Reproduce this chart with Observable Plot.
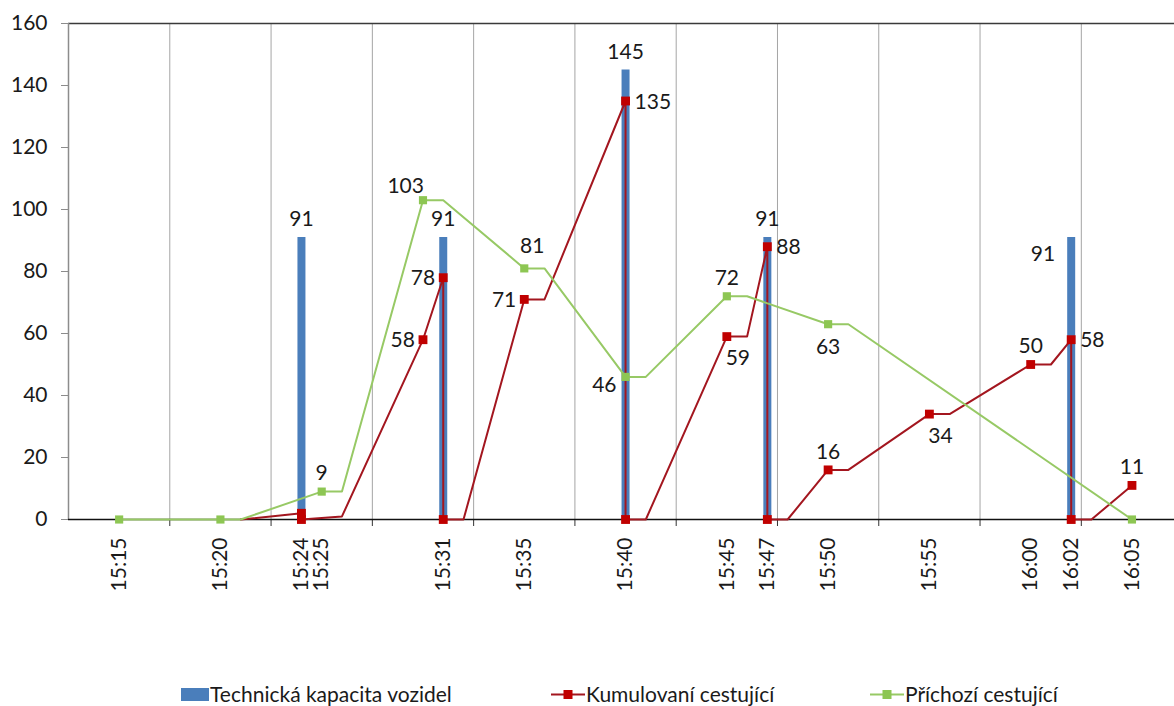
<!DOCTYPE html>
<html>
<head>
<meta charset="utf-8">
<script src="https://cdn.jsdelivr.net/npm/d3@7"></script>
<script src="https://cdn.jsdelivr.net/npm/@observablehq/plot@0.6"></script>
<style>
  html, body { margin: 0; padding: 0; background: #fff; }
  body { width: 1174px; height: 706px; position: relative; overflow: hidden; font-family: Lato, "Open Sans", sans-serif; }
  #chart svg text { font-variant-numeric: tabular-nums; }
  #legend { position: absolute; top: 681px; left: 0; width: 1174px; height: 24px; font-size: 21px; color: #1a1a1a; }
  #legend .item { position: absolute; top: 0; display: flex; align-items: center; white-space: nowrap; }
  #legend svg { display: block; }
</style>
</head>
<body>
<div id="chart"></div>
<div id="legend"></div>
<script>
// ---- data ----
const seriesNames = ["Technická kapacita vozidel", "Kumulovaní cestující", "Příchozí cestující"];

const tickLabels = ["15:15","15:20","15:24","15:25","15:31","15:35","15:40","15:45","15:47","15:50","15:55","16:00","16:02","16:05"];

const capacityTimes  = ["15:24","15:31","15:40","15:47","16:02"];
const capacityValues = [91, 91, 145, 91, 91];

const kumulTimes  = ["15:21","15:24","15:24","15:26","15:30","15:31","15:31","15:32","15:35","15:36","15:40","15:40","15:41","15:45","15:46","15:47","15:47","15:48","15:50","15:51","15:55","15:56","16:00","16:01","16:02","16:02","16:03","16:05"];
const kumulValues = [0, 2, 0, 1, 58, 78, 0, 0, 71, 71, 135, 0, 0, 59, 59, 88, 0, 0, 16, 16, 34, 34, 50, 50, 58, 0, 0, 11];
const kumulMarked = [0, 1, 1, 0, 1, 1, 1, 0, 1, 0, 1, 1, 0, 1, 0, 1, 1, 0, 1, 0, 1, 0, 1, 0, 1, 1, 0, 1];
const kumulLabelTimes  = ["15:30","15:31","15:35","15:40","15:45","15:47","15:50","15:55","16:00","16:02","16:05"];
const kumulLabelValues = [58, 78, 71, 135, 59, 88, 16, 34, 50, 58, 11];

const prichTimes  = ["15:15","15:20","15:21","15:25","15:26","15:30","15:31","15:35","15:36","15:40","15:41","15:45","15:46","15:50","15:51","16:05"];
const prichValues = [0, 0, 0, 9, 9, 103, 103, 81, 81, 46, 46, 72, 72, 63, 63, 0];
const prichMarked = [1, 1, 0, 1, 0, 1, 0, 1, 0, 1, 0, 1, 0, 1, 0, 1];
const prichLabelTimes  = ["15:25","15:30","15:35","15:40","15:45","15:50"];
const prichLabelValues = [9, 103, 81, 46, 72, 63];

// label placement (style, not data)
const place = {
  N:  {dx: 0,   dy: -18, anchor: "middle"},
  S:  {dx: 0,   dy: 23,  anchor: "middle"},
  W:  {dx: -8,  dy: 1,   anchor: "end"},
  E:  {dx: 9,   dy: 1,   anchor: "start"},
  SE: {dx: 11,  dy: 22,  anchor: "middle"},
  NE: {dx: 8,   dy: -22, anchor: "middle"},
  NW: {dx: 1,   dy: -14, anchor: "end"},
  WS: {dx: -9,  dy: 8,   anchor: "end"},
  BW: {dx: -16, dy: 17,  anchor: "end"}
};
const capacityPlace = ["N","N","N","N","BW"];
const kumulPlace = ["W","W","W","E","SE","E","N","SE","N","E","N"];
const prichPlace = ["N","NW","NE","WS","N","S"];

// ---- helpers ----
const toMin = s => { const [h, m] = s.split(":").map(Number); return h * 60 + m - 900; };
const fromMin = v => { const t = Math.round(v) + 900; return `${Math.floor(t / 60)}:${String(t % 60).padStart(2, "0")}`; };

const capacity = capacityTimes.map((t, i) => ({x: toMin(t), y: capacityValues[i], p: place[capacityPlace[i]]}));
const kumul = kumulTimes.map((t, i) => ({x: toMin(t), y: kumulValues[i], m: kumulMarked[i]}));
const prich = prichTimes.map((t, i) => ({x: toMin(t), y: prichValues[i], m: prichMarked[i]}));
const kumulLabels = kumulLabelTimes.map((t, i) => ({x: toMin(t), y: kumulLabelValues[i], p: place[kumulPlace[i]]}));
const prichLabels = prichLabelTimes.map((t, i) => ({x: toMin(t), y: prichLabelValues[i], p: place[prichPlace[i]]}));

const tickMinutes = tickLabels.map(toMin);
const first = toMin(tickLabels[0]), last = toMin(tickLabels[tickLabels.length - 1]);
const gridMinutes = d3.range(first + 2.5, last, 5);
const xStart = first - 2.5;

const BLUE = "#4a7ebb", RED_LINE = "#a3161f", RED = "#c00000", GREEN_LINE = "#97c965", GREEN = "#8dc653";
const TXT = "#1a1a1a";
const FS = 21;

function labels(data, fill) {
  const groups = d3.group(data, d => d.p);
  return Array.from(groups, ([p, arr]) => Plot.text(arr, {
    x: "x", y: "y", text: d => String(d.y), dx: p.dx, dy: p.dy, textAnchor: p.anchor,
    fill, fontSize: FS
  }));
}

const chart = Plot.plot({
  width: 1174,
  height: 640,
  marginLeft: 68,
  marginRight: 0,
  marginTop: 23,
  marginBottom: 121,
  style: {fontFamily: "Lato, 'Open Sans', sans-serif", fontSize: FS + "px", color: TXT, background: "#fff"},
  x: {domain: [xStart, 67.1], label: null},
  y: {domain: [0, 160], label: null},
  marks: [
    Plot.ruleX(gridMinutes, {y1: 0, y2: 160, stroke: "#a5a5a5", strokeWidth: 1}),
    Plot.ruleY([160], {stroke: "#3a3a3a", strokeWidth: 1.5}),
    Plot.ruleX([xStart], {y1: 0, y2: 160, stroke: "#8c8c8c", strokeWidth: 1.5}),
    Plot.axisY({ticks: d3.range(0, 161, 20), tickSize: 7, tickPadding: 14, stroke: "#8c8c8c", fill: TXT, fontSize: FS}),
    Plot.axisX({ticks: gridMinutes, tickSize: 7, tickFormat: () => "", stroke: "#333"}),
    Plot.axisX({ticks: tickMinutes, tickSize: 0, tickPadding: 18, tickRotate: -90, tickFormat: fromMin, fill: TXT, fontSize: FS}),
    Plot.ruleX(capacity, {x: "x", y1: 0, y2: "y", stroke: BLUE, strokeWidth: 8}),
    Plot.ruleY([0], {stroke: "#111", strokeWidth: 1.5}),
    Plot.line(kumul, {x: "x", y: "y", stroke: RED_LINE, strokeWidth: 2}),
    Plot.dot(kumul.filter(d => d.m), {x: "x", y: "y", symbol: "square", r: 5, fill: RED, stroke: "none"}),
    Plot.line(prich, {x: "x", y: "y", stroke: GREEN_LINE, strokeWidth: 2}),
    Plot.dot(prich.filter(d => d.m), {x: "x", y: "y", symbol: "square", r: 4.6, fill: GREEN, stroke: "none"}),
    ...labels(capacity, TXT),
    ...labels(kumulLabels, TXT),
    ...labels(prichLabels, TXT)
  ]
});
document.getElementById("chart").appendChild(chart);

// ---- legend ----
const legend = d3.select("#legend");
const items = [
  {name: seriesNames[0], left: 181, kind: "bar", color: BLUE},
  {name: seriesNames[1], left: 551, kind: "line", color: RED_LINE, marker: RED},
  {name: seriesNames[2], left: 870, kind: "line", color: GREEN_LINE, marker: GREEN}
];
for (const it of items) {
  const div = legend.append("div").attr("class", "item").style("left", it.left + "px");
  const svg = div.append("svg").attr("width", it.kind === "bar" ? 29 : 35).attr("height", 24);
  if (it.kind === "bar") {
    svg.append("rect").attr("x", 0).attr("y", 6).attr("width", 28).attr("height", 13).attr("fill", it.color);
  } else {
    svg.append("line").attr("x1", 0).attr("x2", 34).attr("y1", 12.5).attr("y2", 12.5).attr("stroke", it.color).attr("stroke-width", 2);
    svg.append("rect").attr("x", 12.5).attr("y", 8).attr("width", 9).attr("height", 9).attr("fill", it.marker);
  }
  div.append("span").text(it.name);
}
</script>
</body>
</html>
